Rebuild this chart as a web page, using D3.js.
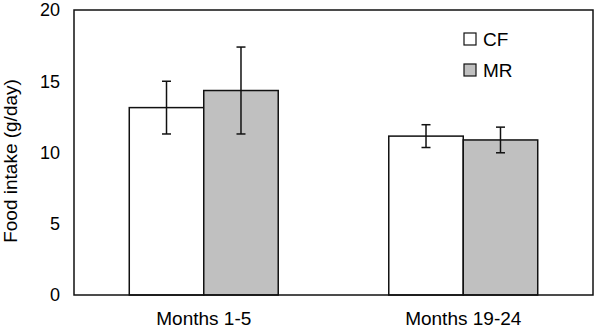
<!DOCTYPE html>
<html>
<head>
<meta charset="utf-8">
<script src="https://cdn.jsdelivr.net/npm/d3@7"></script>
<style>
  body { margin: 0; background: #fff; }
  text { font-family: "Liberation Sans", Arial, sans-serif; fill: #000; }
</style>
</head>
<body>
<div id="chart"></div>
<script>
// Data.
let periods = ["Months 1-5", "Months 19-24"];
let groups = ["CF", "MR"];
let meanCF = [13.15, 11.15];
let meanMR = [14.35, 10.88];
let errCF = [1.85, 0.8];
let errMR = [3.05, 0.9];
let yTicks = [0, 5, 10, 15, 20];
let groupColors = ["#ffffff", "#c0c0c0"];

let width = 597, height = 329;
let margin = { top: 10, right: 4, bottom: 34, left: 74 };
let innerW = width - margin.left - margin.right;
let innerH = height - margin.top - margin.bottom;

let rows = [];
periods.forEach((p, i) => {
    rows.push({ period: p, group: "CF", value: meanCF[i], err: errCF[i] });
    rows.push({ period: p, group: "MR", value: meanMR[i], err: errMR[i] });
});

let svg = d3.select("#chart").append("svg")
    .attr("width", width)
    .attr("height", height);

let g = svg.append("g")
    .attr("transform", "translate(" + margin.left + "," + margin.top + ")");

let x0 = d3.scaleBand().domain(periods).range([0, innerW]).padding(0);
let x1 = d3.scaleBand().domain(groups).range([0, x0.bandwidth()])
    .paddingInner(0).paddingOuter(0.742);
let y = d3.scaleLinear().domain([0, 20]).range([innerH, 0]);
let color = d3.scaleOrdinal(groups, groupColors);

// Y tick labels (no tick marks in the original).
let yAxis = g.append("g")
    .call(d3.axisLeft(y).tickValues(yTicks).tickSize(0).tickPadding(14));
yAxis.select(".domain").remove();
yAxis.selectAll("text")
    .style("font-size", "18px")
    .style("font-family", "Liberation Sans, Arial, sans-serif");

// X labels.
let xAxis = g.append("g")
    .attr("transform", "translate(0," + innerH + ")")
    .call(d3.axisBottom(x0).tickSize(0).tickPadding(17));
xAxis.select(".domain").remove();
xAxis.selectAll("text")
    .style("font-size", "19px")
    .style("font-family", "Liberation Sans, Arial, sans-serif");

// Bars.
g.selectAll("rect.bar")
    .data(rows)
    .enter()
    .append("rect")
    .attr("class", "bar")
    .attr("x", d => x0(d.period) + x1(d.group))
    .attr("y", d => y(d.value))
    .attr("width", x1.bandwidth())
    .attr("height", d => innerH - y(d.value))
    .attr("fill", d => color(d.group))
    .attr("stroke", "#111")
    .attr("stroke-width", 1.5);

// Error bars.
let cap = 4.5;
let eb = g.selectAll("g.err")
    .data(rows)
    .enter()
    .append("g")
    .attr("class", "err")
    .attr("stroke", "#111")
    .attr("stroke-width", 1.5);
eb.append("line")
    .attr("x1", d => x0(d.period) + x1(d.group) + x1.bandwidth() / 2)
    .attr("x2", d => x0(d.period) + x1(d.group) + x1.bandwidth() / 2)
    .attr("y1", d => y(d.value + d.err))
    .attr("y2", d => y(d.value - d.err));
eb.append("line")
    .attr("x1", d => x0(d.period) + x1(d.group) + x1.bandwidth() / 2 - cap)
    .attr("x2", d => x0(d.period) + x1(d.group) + x1.bandwidth() / 2 + cap)
    .attr("y1", d => y(d.value + d.err))
    .attr("y2", d => y(d.value + d.err));
eb.append("line")
    .attr("x1", d => x0(d.period) + x1(d.group) + x1.bandwidth() / 2 - cap)
    .attr("x2", d => x0(d.period) + x1(d.group) + x1.bandwidth() / 2 + cap)
    .attr("y1", d => y(d.value - d.err))
    .attr("y2", d => y(d.value - d.err));

// Frame around the plot area.
g.append("rect")
    .attr("x", 0)
    .attr("y", 0)
    .attr("width", innerW)
    .attr("height", innerH)
    .attr("fill", "none")
    .attr("stroke", "#111")
    .attr("stroke-width", 1.5);

// Y axis title.
svg.append("text")
    .attr("transform", "translate(17,161) rotate(-90)")
    .attr("text-anchor", "middle")
    .style("font-size", "19px")
    .text("Food intake (g/day)");

// Legend.
let legend = svg.append("g")
    .attr("transform", "translate(464,33)");
groups.forEach((grp, i) => {
    legend.append("rect")
        .attr("x", 0)
        .attr("y", i * 31)
        .attr("width", 12)
        .attr("height", 12)
        .attr("fill", color(grp))
        .attr("stroke", "#111")
        .attr("stroke-width", 1.2);
    legend.append("text")
        .attr("x", 19)
        .attr("y", i * 31 + 13)
        .style("font-size", "19px")
        .text(grp);
});
</script>
</body>
</html>
